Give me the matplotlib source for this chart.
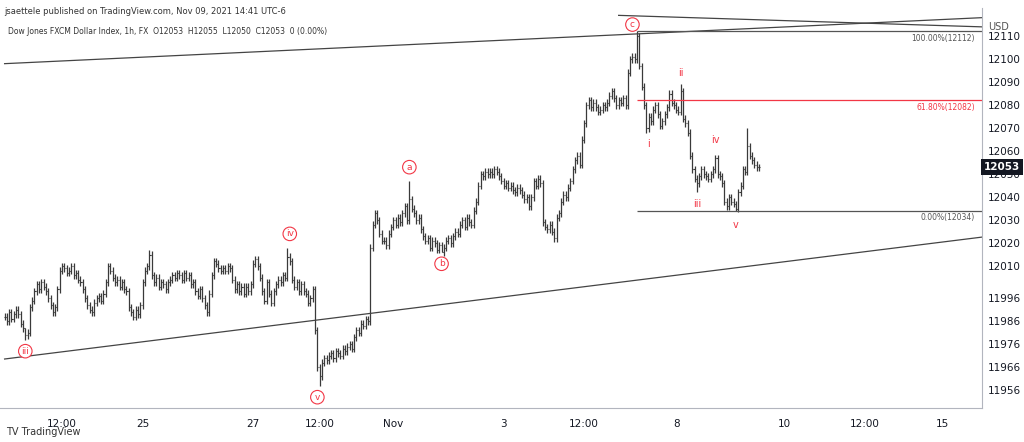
import numpy as np
import matplotlib.pyplot as plt

# hourly closes (bar index 0 = first bar on the left)
closes_oct = [
    11988, 11986, 11990, 11987, 11989, 11991, 11989, 11985, 11983, 11980,
    11981, 11992, 11995, 11999, 12002, 12000, 12003, 12001, 11999, 11996,
    11993, 11990, 11992, 12000, 12008, 12010, 12009, 12007, 12008, 12010,
    12006, 12007, 12004, 12003, 12000, 11996, 11993, 11991, 11990, 11994,
    11996, 11997, 11995, 11998, 12003, 12010, 12008, 12005, 12003, 12004,
    12001, 12003, 12000, 11999, 11992, 11990, 11988, 11991, 11989, 11993,
    12003, 12008, 12010, 12015, 12006, 12003, 12005, 12001, 12003, 12002,
    12000, 12003, 12004, 12006, 12005, 12007, 12006, 12004, 12007, 12005,
    12006, 12002, 12003, 11999, 11997, 12000, 11996, 11993, 11990, 11998,
    12006, 12012, 12011, 12009, 12008, 12009, 12008, 12010, 12009, 12004,
    12000, 12002, 11999, 12001, 11998, 12001, 11999, 12002, 12011, 12013,
    12010, 12005, 11999, 11995, 12003, 11998, 11994, 11999, 12002, 12004,
    12003, 12006, 12005, 12014, 12012, 12004, 12001, 12003, 11999, 12002,
    11999, 11998, 11994, 11996, 12000, 11982, 11966, 11962, 11968, 11970,
    11969, 11971, 11972, 11970, 11973,
]
closes_nov = [
    11972, 11971, 11974, 11973, 11975, 11976, 11974, 11979, 11982, 11981,
    11985, 11984, 11987, 11986, 12018, 12028, 12033, 12030, 12024, 12021,
    12021, 12019, 12024, 12027, 12030, 12028, 12031, 12029, 12033, 12036,
    12030, 12039, 12035, 12033, 12030, 12031, 12026, 12023, 12021, 12022,
    12018, 12021, 12020, 12017, 12019, 12016, 12018, 12021, 12022, 12020,
    12023, 12025, 12024, 12028, 12030, 12027, 12031, 12029, 12028, 12034,
    12038, 12045, 12050, 12049, 12051, 12050, 12051, 12050, 12052, 12051,
    12049, 12047, 12045, 12046, 12044, 12045, 12043, 12042, 12044, 12043,
    12041, 12039, 12040, 12036, 12040, 12047, 12045, 12048, 12046, 12029,
    12027, 12026, 12028, 12025, 12022, 12031, 12033, 12038, 12041, 12040,
    12044, 12047, 12052, 12056, 12058, 12054, 12065, 12072, 12080, 12082,
    12079, 12081, 12079, 12077, 12078, 12080, 12079, 12081, 12084, 12086,
    12083, 12080, 12082, 12081, 12083, 12080, 12094, 12100, 12101, 12100,
    12110, 12097, 12088, 12080, 12070, 12075, 12073, 12078, 12080, 12076,
    12071, 12073, 12076, 12079, 12085, 12081, 12080, 12078, 12077, 12086,
    12074, 12072, 12068, 12058, 12052, 12048, 12046, 12049, 12052, 12050,
    12049, 12048, 12050, 12052, 12057, 12050, 12049, 12046, 12038, 12036,
    12040, 12038, 12037, 12035, 12042, 12045, 12052, 12051, 12062, 12058,
    12056, 12054, 12053, 12053,
]
# wick extremes that stick out (bar index: price)
spike_highs = {9: 11983, 63: 12017, 123: 12018, 176: 12047,
               275: 12112, 294: 12089, 323: 12070}
spike_lows = {9: 11978, 137: 11958, 190: 12016, 279: 12068, 301: 12042,
              318: 12034}

xtick_pos = [25, 60, 108, 137, 169, 217, 252, 292, 339, 374, 408]
xtick_lbl = ['12:00', '25', '27', '12:00', 'Nov', '3', '12:00', '8', '10', '12:00', '15']
ytick_vals = [11956, 11966, 11976, 11986, 11996, 12010, 12020, 12030, 12040,
              12050, 12060, 12070, 12080, 12090, 12100, 12110]

# wave labels: (text, bar index, price, circled)
waves = [('iii', 9, 11973, True), ('iv', 124, 12024, True), ('v', 136, 11953, True),
         ('a', 176, 12053, True), ('b', 190, 12011, True), ('c', 273, 12115, True),
         ('i', 280, 12063, False), ('ii', 294, 12094, False), ('iii', 301, 12037, False),
         ('iv', 309, 12065, False), ('v', 318, 12028, False)]

closes = np.array(closes_oct + closes_nov, dtype=float)
idx = np.arange(len(closes))
opens = np.r_[closes[0], closes[:-1]]
highs = np.maximum(opens, closes) + 1.5
lows = np.minimum(opens, closes) - 1.5
for k, v in spike_highs.items():
    highs[k] = v
for k, v in spike_lows.items():
    lows[k] = v

plt.rcParams['font.family'] = ['DejaVu Sans']
fig = plt.figure(figsize=(10.24, 4.42), dpi=100)
ax = fig.add_axes([0, 34 / 442, 982 / 1024, 400 / 442])
bar_c = '#3a3a3a'
ax.vlines(idx, lows, highs, color=bar_c, lw=0.9)
ax.hlines(opens, idx - 0.45, idx, color=bar_c, lw=0.8)
ax.hlines(closes, idx, idx + 0.45, color=bar_c, lw=0.8)

# trendlines
ax.plot([0, 425], [12098, 12118], color='#444', lw=0.9)
ax.plot([267, 425], [12119, 12114], color='#444', lw=0.9)
ax.plot([0, 425], [11969.6, 12022.6], color='#444', lw=0.9)

# fib retracement
ax.hlines([12112, 12034], 275, 425, color='#555', lw=0.9)
ax.hlines(12082, 275, 425, color='#f23645', lw=0.9)
ax.text(422, 12111, '100.00%(12112)', fontsize=5.5, ha='right', va='top', color='#555')
ax.text(422, 12081, '61.80%(12082)', fontsize=5.5, ha='right', va='top', color='#f23645')
ax.text(422, 12033, '0.00%(12034)', fontsize=5.5, ha='right', va='top', color='#555')

for t, i, p, circ in waves:
    if circ:
        ax.text(i, p, t, fontsize=6.5, ha='center', va='center', color='#f23645',
                bbox=dict(boxstyle='circle,pad=0.25', fc='white', ec='#f23645', lw=0.8))
    else:
        ax.text(i, p, t, fontsize=7, ha='center', va='center', color='#f23645')

ax.set_xlim(-2, 425)
ax.set_ylim(11948.3, 12122.2)
ax.set_xticks(xtick_pos)
ax.set_xticklabels(xtick_lbl)
ax.set_yticks(ytick_vals)
ax.yaxis.tick_right()
ax.tick_params(axis='x', length=0, labelsize=7.5, colors='#131722', pad=8)
ax.tick_params(axis='y', length=0, labelsize=7.5, colors='#131722', pad=4)
for s in ['top', 'left']:
    ax.spines[s].set_visible(False)
ax.spines['right'].set_color('#b2b5be')
ax.spines['bottom'].set_color('#b2b5be')

ax.text(1.002, closes[-1], '12053', transform=ax.get_yaxis_transform(), fontsize=7.5,
        color='white', va='center', ha='left', fontweight='bold',
        bbox=dict(boxstyle='square,pad=0.3', fc='#131722', ec='none'))
fig.text(0.965, 0.94, 'USD', fontsize=7, color='#555', va='center')
fig.text(0.004, 0.985, 'jsaettele published on TradingView.com, Nov 09, 2021 14:41 UTC-6',
         fontsize=6, va='top', color='#333')
fig.text(0.008, 0.94, 'Dow Jones FXCM Dollar Index, 1h, FX  O12053  H12055  L12050  C12053  0 (0.00%)',
         fontsize=5.5, va='top', color='#333')
fig.text(0.006, 0.015, 'TV TradingView', fontsize=7, color='#333')

fig.savefig('out.png', dpi=100, facecolor='white')
